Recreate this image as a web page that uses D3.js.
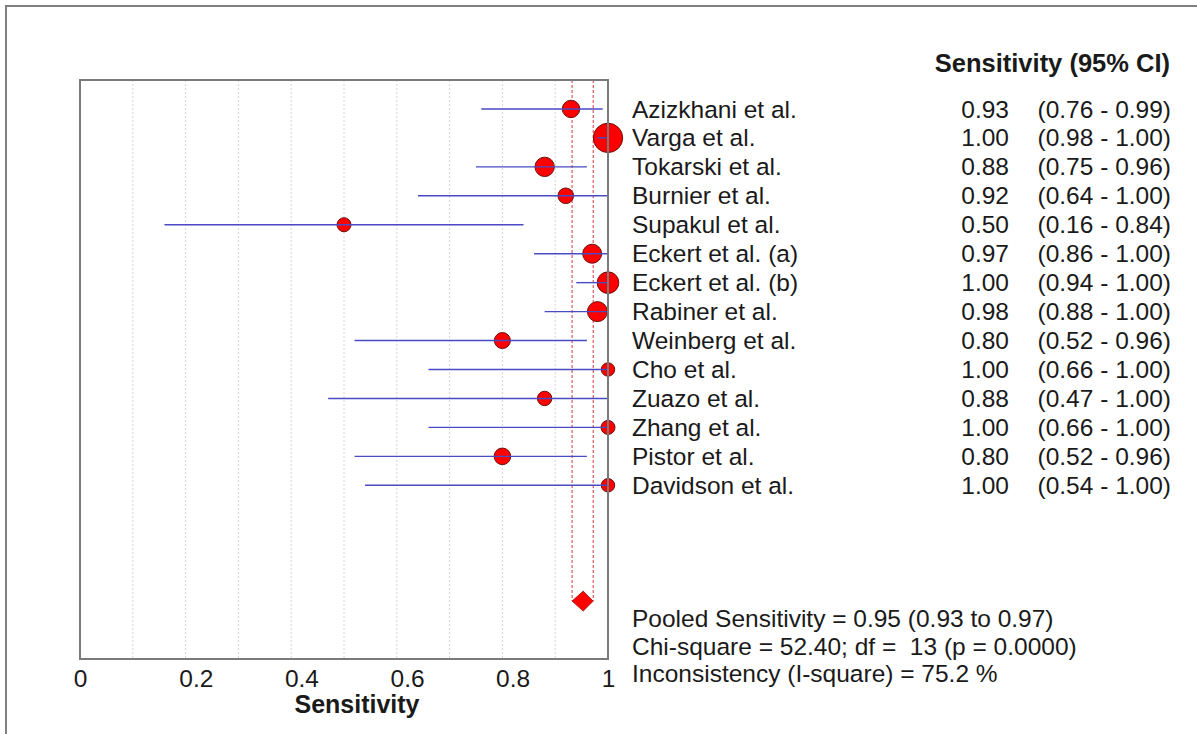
<!DOCTYPE html>
<html>
<head>
<meta charset="utf-8">
<script src="https://cdn.jsdelivr.net/npm/d3@7"></script>
<style>
  body { margin: 0; background: #fff; }
  text { font-family: "Liberation Sans", Arial, sans-serif; fill: #1a1a1a; }
</style>
</head>
<body>
<div id="chart"></div>
<script>
const studies = ["Azizkhani et al.", "Varga et al.", "Tokarski et al.", "Burnier et al.", "Supakul et al.",
    "Eckert et al. (a)", "Eckert et al. (b)", "Rabiner et al.", "Weinberg et al.", "Cho et al.",
    "Zuazo et al.", "Zhang et al.", "Pistor et al.", "Davidson et al."];
const sens = [0.93, 1.00, 0.88, 0.92, 0.50, 0.97, 1.00, 0.98, 0.80, 1.00, 0.88, 1.00, 0.80, 1.00];
const ciLow = [0.76, 0.98, 0.75, 0.64, 0.16, 0.86, 0.94, 0.88, 0.52, 0.66, 0.47, 0.66, 0.52, 0.54];
const ciHigh = [0.99, 1.00, 0.96, 1.00, 0.84, 1.00, 1.00, 1.00, 0.96, 1.00, 1.00, 1.00, 0.96, 1.00];
// relative study weights (marker area)
const weights = [76, 216, 94, 61, 49, 90, 117, 100, 64, 45, 52, 49, 69, 45];

const pooled = { est: 0.953, low: 0.932, high: 0.972 };
const xTicks = [0, 0.2, 0.4, 0.6, 0.8, 1];
const gridTicks = [0.1, 0.2, 0.3, 0.4, 0.5, 0.6, 0.7, 0.8, 0.9];
const summaryLines = [
    "Pooled Sensitivity = 0.95 (0.93 to 0.97)",
    "Chi-square = 52.40; df =  13 (p = 0.0000)",
    "Inconsistency (I-square) = 75.2 %"
];

const W = 1197, H = 734;
const plot = { left: 80, top: 80, right: 608, bottom: 659 };

const svg = d3.select("#chart").append("svg")
    .attr("width", W)
    .attr("height", H);

// outer frame (runs off the right/bottom edge)
svg.append("rect")
    .attr("x", 6).attr("y", 6)
    .attr("width", W + 20).attr("height", H + 20)
    .attr("fill", "none").attr("stroke", "#808080").attr("stroke-width", 2);

const x = d3.scaleLinear().domain([0, 1]).range([plot.left, plot.right]);
// one row per study, with a blank band then the pooled row
const y = d3.scaleLinear().domain([-1, 19]).range([plot.top, plot.bottom]);
const r = d3.scaleSqrt().domain([0, d3.max(weights)]).range([0, 14.7]);

const rows = studies.map((name, i) => ({
    name, sens: sens[i], lo: ciLow[i], hi: ciHigh[i], w: weights[i], i
}));

// grid
svg.append("g")
    .selectAll("line")
    .data(gridTicks)
    .join("line")
    .attr("x1", d => x(d)).attr("x2", d => x(d))
    .attr("y1", plot.top).attr("y2", plot.bottom)
    .attr("stroke", "#d4d4d4")
    .attr("stroke-dasharray", "2,2");

// pooled CI reference lines
svg.append("g")
    .selectAll("line")
    .data([pooled.low, pooled.high])
    .join("line")
    .attr("x1", d => x(d)).attr("x2", d => x(d))
    .attr("y1", plot.top).attr("y2", y(17))
    .attr("stroke", "#d03a3a")
    .attr("stroke-width", 1)
    .attr("stroke-dasharray", "3,2");

// study markers
svg.append("g")
    .selectAll("circle")
    .data(rows)
    .join("circle")
    .attr("cx", d => x(d.sens))
    .attr("cy", d => y(d.i))
    .attr("r", d => r(d.w))
    .attr("fill", "#ff0000")
    .attr("stroke", "#6a1010")
    .attr("stroke-width", 1);

// CI lines on top of markers
svg.append("g")
    .selectAll("line")
    .data(rows)
    .join("line")
    .attr("x1", d => x(d.lo)).attr("x2", d => x(d.hi))
    .attr("y1", d => y(d.i)).attr("y2", d => y(d.i))
    .attr("stroke", "#4a4ac4")
    .attr("stroke-width", 1.4);

// pooled diamond
const yp = y(17), dh = 10;
svg.append("path")
    .attr("d", `M${x(pooled.low)},${yp} L${x(pooled.est)},${yp - dh} L${x(pooled.high)},${yp} L${x(pooled.est)},${yp + dh} Z`)
    .attr("fill", "#ff0000")
    .attr("stroke", "#9a1010")
    .attr("stroke-width", 0.8);

// plot frame
svg.append("rect")
    .attr("x", plot.left).attr("y", plot.top)
    .attr("width", plot.right - plot.left).attr("height", plot.bottom - plot.top)
    .attr("fill", "none").attr("stroke", "#7a7a7a").attr("stroke-width", 2);

// x axis
const axis = svg.append("g")
    .attr("transform", `translate(0,${plot.bottom})`)
    .call(d3.axisBottom(x).tickValues(xTicks).tickSize(0).tickPadding(11)
        .tickFormat(d => (d === 0 || d === 1) ? String(d) : d.toFixed(1)));
axis.select(".domain").remove();
axis.selectAll("text")
    .attr("text-anchor", "start")
    .attr("dx", "-0.278em")
    .style("font-size", "24.5px")
    .style("font-family", "'Liberation Sans', Arial, sans-serif")
    .attr("fill", "#1a1a1a");

svg.append("text")
    .attr("x", 357).attr("y", 713)
    .attr("text-anchor", "middle")
    .style("font-size", "25px").style("font-weight", "bold")
    .text("Sensitivity");

// right-hand table
svg.append("text")
    .attr("x", 1170).attr("y", 72)
    .attr("text-anchor", "end")
    .style("font-size", "25.5px").style("font-weight", "bold")
    .text("Sensitivity (95% CI)");

const fmt = d3.format(".2f");
const table = svg.append("g").style("font-size", "24.5px");

table.selectAll("text.name")
    .data(rows)
    .join("text")
    .attr("class", "name")
    .attr("x", 632).attr("y", d => y(d.i))
    .attr("dy", "0.35em")
    .text(d => d.name);

table.selectAll("text.val")
    .data(rows)
    .join("text")
    .attr("class", "val")
    .attr("x", 1009).attr("y", d => y(d.i))
    .attr("dy", "0.35em")
    .attr("text-anchor", "end")
    .text(d => fmt(d.sens));

table.selectAll("text.ci")
    .data(rows)
    .join("text")
    .attr("class", "ci")
    .attr("x", 1171).attr("y", d => y(d.i))
    .attr("dy", "0.35em")
    .attr("text-anchor", "end")
    .text(d => `(${fmt(d.lo)} - ${fmt(d.hi)})`);

table.selectAll("text.sum")
    .data(summaryLines)
    .join("text")
    .attr("class", "sum")
    .attr("x", 632).attr("y", (d, i) => 627 + i * 27.5)
    .attr("xml:space", "preserve")
    .style("white-space", "pre")
    .text(d => d);
</script>
</body>
</html>
